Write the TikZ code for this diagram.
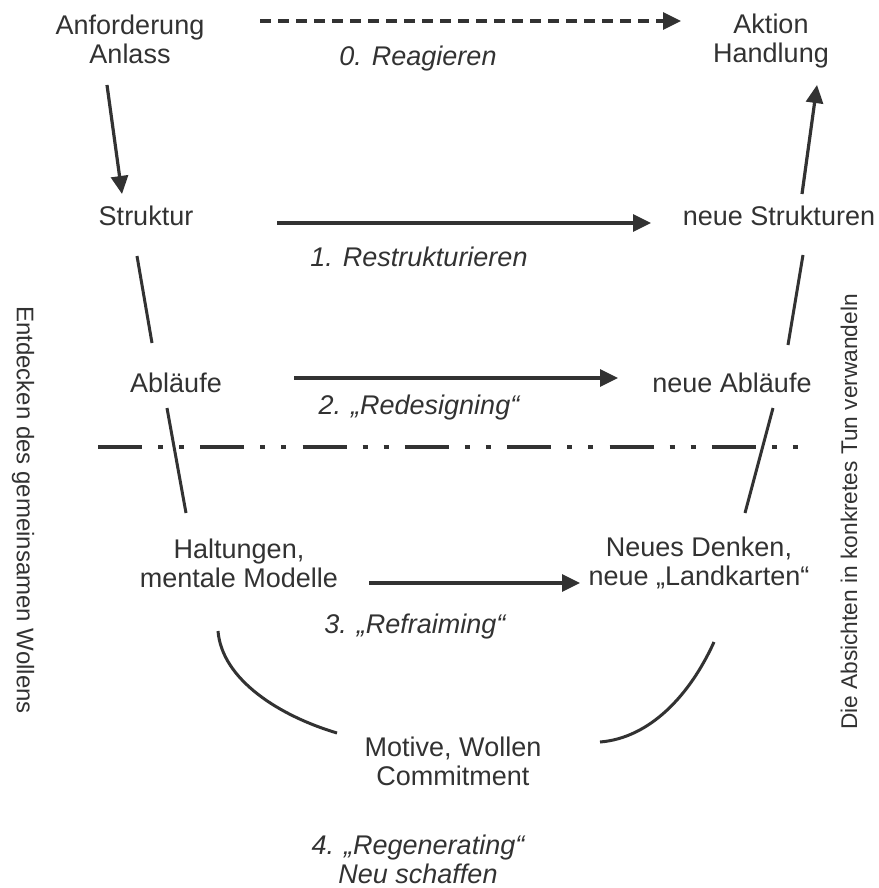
\documentclass[tikz,border=0pt]{standalone}
\usepackage{fontspec}
\setmainfont{Liberation Sans}
\usetikzlibrary{arrows.meta}
\definecolor{ink}{RGB}{50,50,50}
\begin{document}
\begin{tikzpicture}[x=0.5pt,y=-0.5pt,
  every node/.style={text=ink, inner sep=0pt, align=center,
    font=\fontsize{13.5}{14.5}\selectfont},
  lbl/.style={font=\fontsize{13.5}{14.5}\selectfont\itshape},
  arr/.style={draw=ink, line width=1.6pt, -{Triangle[length=9pt,width=8.5pt]}},
  dasharr/.style={arr, dash pattern=on 5.5pt off 3.5pt},
  link/.style={draw=ink, line width=1.5pt},
  divider/.style={draw=ink, line width=2.25pt,
    dash pattern=on 22pt off 8pt on 2.5pt off 8pt on 2.5pt off 8.15pt},
  sidetext/.style={font=\fontsize{12}{14}\selectfont}
]
\fill[white] (0,0) rectangle (878,888);

% labels
\node (anf)    at (130,39)  {Anforderung\\Anlass};
\node (akt)    at (771,41)  {Aktion\\Handlung};
\node[lbl] (reag)  at (418,59)  {0. Reagieren};
\node (struk)  at (146,216) {Struktur};
\node (nstruk) at (779,216) {neue Strukturen};
\node[lbl] (restr) at (419,257) {1. Restrukturieren};
\node (abl)    at (176,383) {Abläufe};
\node (nabl)   at (732,383) {neue Abläufe};
\node[lbl] (redes) at (419,408) {2. „Redesigning“};
\node (halt)   at (239,563) {Haltungen,\\mentale Modelle};
\node (ndenk)  at (699,563) {Neues Denken,\\neue „Landkarten“};
\node[lbl] (refr)  at (415,627) {3. „Refraiming“};
\node (motiv)  at (453,761) {Motive, Wollen\\Commitment};
\node[lbl] (regen) at (418,859) {4. „Regenerating“\\Neu schaffen};
\node[sidetext, rotate=-90] (links)  at (23,510)  {Entdecken des gemeinsamen Wollens};
\node[sidetext, font=\fontsize{11.35}{14}\selectfont, rotate=90] (rechts) at (849,512) {Die Absichten in konkretes Tun verwandeln};

% connector end points
\coordinate (r0) at (260,21);  \coordinate (r1) at (681,21);
\coordinate (s0) at (107,85);  \coordinate (s1) at (122,194);
\coordinate (h0) at (802,194); \coordinate (h1) at (817,85);
\coordinate (p0) at (277,223); \coordinate (p1) at (651,223);
\coordinate (q0) at (294,378); \coordinate (q1) at (618,378);
\coordinate (m0) at (369,583); \coordinate (m1) at (580,583);
\coordinate (la0) at (137,256); \coordinate (la1) at (152,343);
\coordinate (lb0) at (167,408); \coordinate (lb1) at (186,513);
\coordinate (ra0) at (803,255); \coordinate (ra1) at (788,345);
\coordinate (rb0) at (773,408); \coordinate (rb1) at (745,513);
\coordinate (c0) at (218,631); \coordinate (c1) at (337,733);
\coordinate (c2) at (714,642); \coordinate (c3) at (600,742);
\coordinate (dl0) at (98,447); \coordinate (dl1) at (798,447);

% arrows
\draw[dasharr] (r0) -- (r1);
\draw[arr] (s0) -- (s1);
\draw[arr] (h0) -- (h1);
\draw[arr] (p0) -- (p1);
\draw[arr] (q0) -- (q1);
\draw[arr] (m0) -- (m1);

% plain links
\draw[link] (la0) -- (la1);
\draw[link] (lb0) -- (lb1);
\draw[link] (ra0) -- (ra1);
\draw[link] (rb0) -- (rb1);
\draw[link] (c0) .. controls (222,680) and (280,716) .. (c1);
\draw[link] (c2) .. controls (690,695) and (650,738) .. (c3);

% dash-dot divider
\draw[divider] (dl0) -- (dl1);
\end{tikzpicture}
\end{document}
